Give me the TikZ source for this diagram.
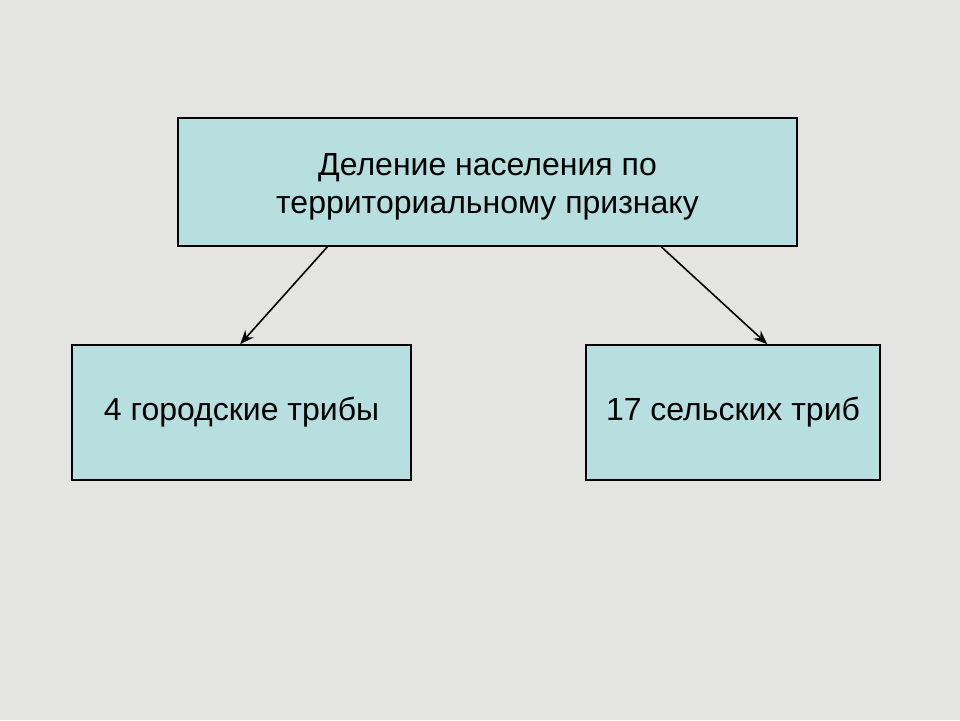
\documentclass[tikz,border=0pt]{standalone}
\usepackage{fontspec}
\setmainfont{Liberation Sans}
\usetikzlibrary{calc,arrows.meta}
\definecolor{bgc}{HTML}{E4E4E2}
\definecolor{boxc}{HTML}{B7DFE0}
\tikzset{
  box/.style={draw=black, line width=1.6pt, fill=boxc, inner sep=0pt, align=center,
    font=\fontsize{32}{38}\selectfont},
  txt/.style={inner sep=0pt, align=center, font=\fontsize{32}{38}\selectfont},
  conn/.style={draw=black, line width=1.6pt, -{Stealth[length=14pt,width=11pt]}}
}
\begin{document}
\begin{tikzpicture}[x=1pt,y=-1pt]
\fill[bgc] (0,0) rectangle (960,720);
\useasboundingbox (0,0) rectangle (960,720);
\node[box, minimum width=619pt, minimum height=128pt] (top) at (487.5,182) {};
\node[txt] (toptext) at ([yshift=-5pt]top.center) {Деление населения по\\территориальному признаку};
\node[box, minimum width=339pt, minimum height=135pt] (left) at (241.5,412.5) {4 городские трибы};
\node[box, minimum width=294pt, minimum height=135pt] (right) at (733,412.5) {17 сельских триб};
\draw[conn] ($(top.south west)!0.242!(top.south east)$) -- ($(left.north west)!0.496!(left.north east)$);
\draw[conn] ($(top.south west)!0.780!(top.south east)$) -- ($(right.north west)!0.616!(right.north east)$);
\end{tikzpicture}
\end{document}
